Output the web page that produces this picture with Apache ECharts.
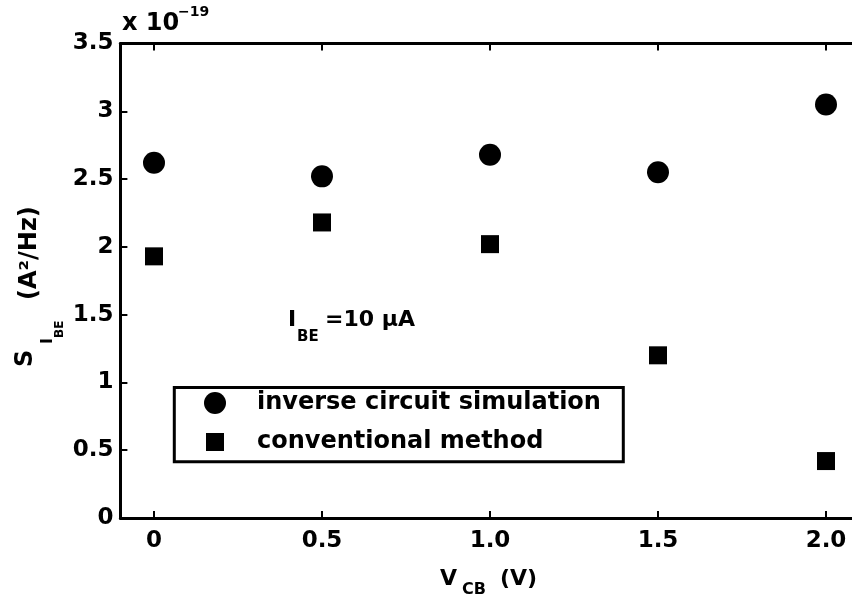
<!DOCTYPE html>
<html>
<head>
<meta charset="utf-8">
<script src="https://cdn.jsdelivr.net/npm/echarts@6/dist/echarts.min.js"></script>
<style>
  html, body { margin: 0; padding: 0; background: #fff; }
  #chart { width: 852px; height: 600px; }
</style>
</head>
<body>
<div id="chart"></div>
<script>
// Base-current noise spectral density vs. collector-base voltage (units of 1e-19 A^2/Hz)
const vcb = [0, 0.5, 1.0, 1.5, 2.0];
const inverseSim = [2.62, 2.52, 2.68, 2.55, 3.05];
const conventional = [1.93, 2.18, 2.02, 1.20, 0.42];
const seriesNames = ['inverse circuit simulation', 'conventional method'];

const xTicks = [0, 0.5, 1.0, 1.5, 2.0];
const xTickLabels = ['0', '0.5', '1.0', '1.5', '2.0'];
const yTicks = [0, 0.5, 1, 1.5, 2, 2.5, 3, 3.5];
const yTickLabels = ['0', '0.5', '1', '1.5', '2', '2.5', '3', '3.5'];

const FONT = '"DejaVu Sans", "Liberation Sans", sans-serif';

function pairs(xs, ys) { return xs.map((x, i) => [x, ys[i]]); }

const chart = echarts.init(document.getElementById('chart'), null, { renderer: 'canvas' });

const axisLine = { show: true, onZero: false, lineStyle: { color: '#000', width: 3 } };
const axisTick = { show: true, inside: true, length: 7, lineStyle: { color: '#000', width: 2 } };

function txt(text, x, y, size, extra) {
  return Object.assign({
    type: 'text', x: x, y: y, silent: true,
    style: { text: text, font: 'bold ' + size + 'px ' + FONT, fill: '#000',
             align: 'left', verticalAlign: 'middle' }
  }, extra || {});
}

const option = {
  backgroundColor: '#fff',
  animation: false,
  grid: { left: 120.4, top: 43.5, width: 739.2, height: 474.5,
          containLabel: false, outerBoundsMode: 'none' },
  xAxis: [
    {
      type: 'value', position: 'bottom', min: -0.1, max: 2.1,
      axisLine: axisLine,
      axisTick: Object.assign({ customValues: xTicks }, axisTick),
      splitLine: { show: false },
      axisLabel: {
        customValues: xTicks,
        formatter: v => xTickLabels[xTicks.indexOf(v)] ?? '',
        fontFamily: FONT, fontWeight: 'bold', fontSize: 23, color: '#000', margin: 12
      }
    },
    {
      type: 'value', position: 'top', min: -0.1, max: 2.1,
      axisLine: axisLine,
      axisTick: Object.assign({ customValues: xTicks }, axisTick),
      splitLine: { show: false },
      axisLabel: { show: false }
    }
  ],
  yAxis: {
    type: 'value', min: 0, max: 3.5, interval: 0.5,
    axisLine: axisLine,
    axisTick: axisTick,
    splitLine: { show: false },
    axisLabel: {
      formatter: v => yTickLabels[yTicks.indexOf(v)] ?? '',
      fontFamily: FONT, fontWeight: 'bold', fontSize: 23, color: '#000', margin: 7
    }
  },
  legend: {
    orient: 'vertical', left: 204, top: 390, padding: 0, itemGap: 13,
    itemWidth: 22, itemHeight: 22,
    itemStyle: { opacity: 1 },
    textStyle: { fontFamily: FONT, fontWeight: 'bold', fontSize: 24, lineHeight: 26,
                 color: '#000', padding: [0, 0, 0, 26] },
    data: [
      { name: seriesNames[0], icon: 'circle' },
      { name: seriesNames[1], icon: 'path://M-2,-2M20,20M0,0h18v18h-18z' }
    ]
  },
  series: [
    {
      name: seriesNames[0], type: 'scatter', symbol: 'circle', symbolSize: 22,
      itemStyle: { color: '#000', opacity: 1 }, data: pairs(vcb, inverseSim)
    },
    {
      name: seriesNames[1], type: 'scatter', symbol: 'rect', symbolSize: 18,
      itemStyle: { color: '#000', opacity: 1 }, data: pairs(vcb, conventional)
    }
  ],
  graphic: [
    // legend frame
    { type: 'rect', silent: true, shape: { x: 174.3, y: 387.5, width: 449, height: 74.2 },
      style: { fill: 'none', stroke: '#000', lineWidth: 3 } },
    // axis exponent
    txt('x 10', 122, 24, 24),
    txt('\u221219', 178, 12.5, 14),
    // operating point annotation
    txt('I', 288, 320, 22),
    txt('BE', 297, 337.5, 15),
    txt('=10 \u03bcA', 325, 320, 22),
    // x-axis title
    txt('V', 440, 579, 22),
    txt('CB', 462, 590, 16),
    txt('(V)', 500, 579, 22),
    // y-axis title (rotated)
    txt('S', 26, 367, 24, { rotation: Math.PI / 2 }),
    txt('I', 48, 344, 16, { rotation: Math.PI / 2 }),
    txt('BE', 60, 338, 12, { rotation: Math.PI / 2 }),
    txt('(A\u00b2/Hz)', 30, 300, 24, { rotation: Math.PI / 2 })
  ]
};

chart.setOption(option);
</script>
</body>
</html>
